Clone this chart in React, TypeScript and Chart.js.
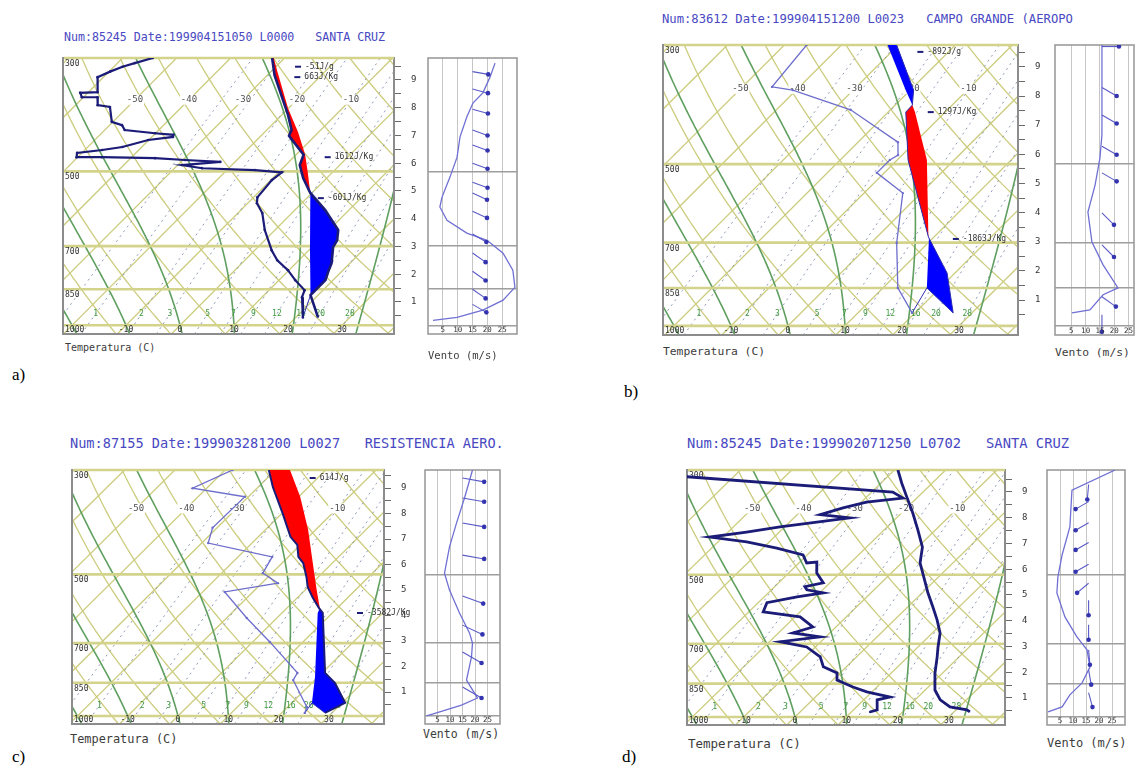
import React, { useEffect, useRef } from 'react';
import { Chart, registerables } from 'chart.js';

Chart.register(...registerables);

// ---------------- diagram constants ----------------
const SKEW = 41;
const P_TOP = 300;
const P_BOT = 1040;

const ISOTHERMS = [-130, -120, -110, -100, -90, -80, -70, -60, -50, -40, -30, -20, -10, 0, 10, 20, 30, 40];
const DRY_ADIABATS_K = [230, 240, 250, 260, 270, 280, 290, 300, 310, 320, 330, 340, 350, 360, 370, 380, 390, 400];
const MOIST_ADIABATS = [-20, -10, 0, 10, 21, 33];
const MIXING_RATIOS = [0.6, 1, 2, 3, 5, 7, 9, 12, 16, 20, 28];
const MIXING_LABELS = ['.6', '1', '2', '3', '5', '7', '9', '12', '16', '20', '28'];
const ISOTHERM_LABELS = [-50, -40, -30, -20, -10];
const PRESSURE_LINES = [500, 700, 850, 1000];
const PRESSURE_LABELS = [300, 500, 700, 850];
const TEMP_TICKS = [-10, 0, 10, 20, 30];
const HEIGHT_TICKS = [0.5, 1, 1.5, 2, 2.5, 3, 3.5, 4, 4.5, 5, 5.5, 6, 6.5, 7, 7.5, 8, 8.5, 9, 9.5];
const WIND_TICKS = [5, 10, 15, 20, 25];
const WIND_LEVELS = [500, 700, 850, 1000];

// ---------------- panel a: Santa Cruz ----------------
const A_ENV_P = [300, 324, 388, 415, 426, 464, 486, 515, 551, 595, 651, 682, 703, 756, 787, 816, 843, 873, 965];
const A_ENV_T = [-32.3, -28.7, -18.8, -15.4, -14.8, -8.6, -7.4, -4.4, -0.3, 5.6, 11.7, 13.4, 13.9, 16.6, 17.6, 18.6, 18.6, 18.6, 24.1];
const A_PARCEL_P = [300, 319, 376, 419, 464, 502, 544, 551, 713, 873, 965];
const A_PARCEL_T = [-32.0, -28.8, -20.1, -13.8, -8.3, -4.6, -0.9, -0.3, 10.2, 18.6, 24.1];
const A_DEW_P = [300, 307, 312, 319, 327, 350, 351, 358, 358, 371, 374, 400, 406, 415, 421, 424, 428, 434, 448, 454, 460, 469, 469, 471, 475, 479, 486, 493, 497, 502, 520, 562, 577, 603, 651, 713, 746, 780, 816, 854, 881, 965];
const A_DEW_T = [-54.4, -56.8, -58.4, -59.8, -61.1, -58.3, -61.4, -60.3, -57.4, -55.9, -53.3, -50.2, -47.7, -46.3, -40.1, -36.4, -36.1, -40.1, -43.6, -46.8, -50.9, -50.2, -45.5, -35.5, -29.6, -22.7, -29.2, -24.9, -14.8, -9.4, -9.8, -9.3, -8.3, -5.5, -1.9, 3.1, 6.0, 9.8, 13.0, 16.6, 17.4, 21.3];
const A_POS_LAYERS = [[300, 551]];
const A_NEG_LAYERS = [[551, 873]];
const A_WIND_P = [307, 327, 351, 367, 391, 428, 469, 513, 562, 587, 623, 660, 682, 723, 780, 843, 893, 934, 965, 978];
const A_WIND_V = [22.6, 20.9, 18.5, 15.2, 13.1, 10.8, 9.8, 7.4, 4.7, 4.0, 6.4, 13.1, 19.9, 25.3, 28.6, 29.3, 25.3, 18.5, 9.8, 1.7];
const A_ARROW_P = [319, 345, 378, 415, 444, 482, 525, 551, 598, 663, 722, 784, 850, 910];
const A_ARROW_DIR = [10, 15, 15, 20, 20, 20, 20, 25, 25, 30, 35, 35, 35, 30];

// ---------------- panel b: Campo Grande ----------------
const B_ENV_P = [300, 364, 388, 400, 491, 683, 797, 946];
const B_ENV_T = [-30.3, -19.4, -17.0, -16.9, -8.1, 9.0, 18.6, 26.7];
const B_PARCEL_P = [300, 364, 388, 400, 491, 683, 850, 946];
const B_PARCEL_T = [-31.9, -20.8, -17.0, -15.3, -4.8, 9.1, 17.7, 26.7];
const B_DEW_P = [300, 359, 364, 396, 455, 481, 491, 519, 566, 701, 850, 946];
const B_DEW_T = [-46.1, -44.8, -40.6, -27.0, -13.0, -10.7, -11.3, -11.3, -3.2, 4.5, 12.6, 19.5];
const B_POS_LAYERS = [[388, 683]];
const B_NEG_LAYERS = [[300, 388], [683, 946]];
const B_WIND_P = [300, 441, 487, 547, 614, 698, 770, 850, 875, 934, 946];
const B_WIND_V = [15.7, 15.7, 15.0, 13.3, 10.8, 12.2, 16.1, 21.3, 16.1, 11.5, 5.2];
const B_ARROW_P = [302, 360, 405, 463, 519, 616, 707, 883, 954];
const B_ARROW_DIR = [0, 30, 30, 30, 30, 45, 45, 35, 90];

// ---------------- panel c: Resistencia ----------------
const C_ENV_P = [300, 326, 370, 416, 433, 459, 473, 507, 532, 559, 589, 604, 810, 851, 938, 985];
const C_ENV_T = [-31.3, -27.1, -20.0, -13.6, -10.6, -8.0, -5.8, -2.3, -0.1, 2.9, 6.3, 8.1, 20.6, 24.6, 30.6, 28.6];
const C_PARCEL_P = [300, 342, 402, 473, 540, 589, 604, 826, 938, 985];
const C_PARCEL_T = [-27.1, -19.7, -11.5, -3.9, 2.3, 6.5, 7.1, 19.4, 24.0, 28.6];
const C_DEW_P = [300, 328, 342, 398, 429, 459, 497, 522, 545, 619, 696, 810, 839, 957, 985];
const C_DEW_T = [-38.5, -42.8, -30.7, -30.9, -28.7, -13.2, -11.8, -6.8, -15.6, -6.0, 3.4, 15.1, 15.7, 23.8, 24.6];
const C_POS_LAYERS = [[300, 591]];
const C_NEG_LAYERS = [[591, 985]];
const C_WIND_P = [300, 344, 389, 437, 497, 540, 604, 666, 700, 749, 839, 916, 948, 985, 1000];
const C_WIND_V = [19.0, 15.8, 12.6, 9.8, 7.8, 9.8, 13.8, 17.8, 19.0, 18.6, 16.6, 21.0, 14.6, 4.6, 0.6];
const C_ARROW_P = [312, 344, 389, 455, 556, 641, 731, 868];
const C_ARROW_DIR = [10, 10, 10, 10, 20, 25, 30, 30];

// ---------------- panel d: Santa Cruz ----------------
const D_ENV_P = [300, 320, 342, 370, 402, 437, 472, 513, 546, 585, 623, 664, 711, 746, 807, 877, 920, 952, 966, 976];
const D_ENV_T = [-29.3, -25.9, -22.2, -17.8, -13.4, -9.1, -6.4, -2.1, 1.1, 4.9, 8.3, 11.5, 13.9, 15.7, 18.5, 21.9, 24.9, 28.2, 32.1, 33.1];
const D_DEW_P = [310, 334, 344, 351, 361, 373, 379, 396, 406, 416, 426, 439, 454, 472, 470, 496, 520, 530, 538, 546, 557, 573, 599, 614, 645, 664, 677, 693, 711, 746, 783, 807, 835, 864, 885, 898, 907, 920, 966, 976];
const D_DEW_T = [-69.1, -25.9, -22.7, -29.0, -32.4, -35.5, -29.1, -40.9, -46.4, -52.6, -44.4, -37.3, -30.8, -28.5, -26.7, -24.5, -21.3, -24.1, -23.1, -19.3, -23.6, -28.3, -27.2, -19.0, -14.5, -17.2, -11.1, -17.9, -11.7, -7.1, -4.5, -0.6, 0.8, 5.3, 9.0, 12.2, 14.5, 12.6, 14.6, 13.6];
const D_WIND_P = [300, 331, 396, 454, 505, 546, 614, 677, 721, 784, 847, 898, 952, 976];
const D_WIND_V = [26.2, 9.6, 8.8, 5.8, 4.2, 3.8, 6.9, 11.5, 15.4, 16.5, 13.5, 8.8, 5.8, 0.4];
const D_ARROW_P = [322, 350, 388, 427, 475, 521, 566, 638, 721, 795, 888];
const D_ARROW_DIR = [95, 150, 150, 150, 150, 140, 90, 90, 85, 80, 75];

// ---------------- layout / style ----------------
const MONO = '"DejaVu Sans Mono", "Liberation Mono", monospace';
const PAD = 2;
const RIGHT_AXIS = 34;

const PANELS: any[] = [
  {
    key: 'a',
    title: 'Num:85245 Date:199904151050 L0000   SANTA CRUZ', titleX: 64, titleY: 38, titleSize: 11.6,
    box: { l: 63, t: 58, r: 394, b: 334 }, xr: [-21.67, 39.63], hr: [-0.153, 9.79],
    wind: { l: 428, r: 517, xr: [0, 30], tailX: 15, len: 16 },
    tempLbl: { x: 65, y: 348, s: 10 }, windLbl: { x: 428, y: 355, s: 10.5 }, letter: { x: 12, y: 375 },
    envP: A_ENV_P, envT: A_ENV_T, env: { c: '#1b1b78', w: 2.6 },
    dewP: A_DEW_P, dewT: A_DEW_T, dew: { c: '#1b1b78', w: 2.2, r: 1.3 },
    parP: A_PARCEL_P, parT: A_PARCEL_T, lcl: 873,
    pos: A_POS_LAYERS, neg: A_NEG_LAYERS,
    windP: A_WIND_P, windV: A_WIND_V, arrowP: A_ARROW_P, arrowDir: A_ARROW_DIR,
    notes: [
      { text: '-51J/g', p: 312, t: -24.6 },
      { text: '663J/Kg', p: 327, t: -22.8 },
      { text: '1612J/Kg', p: 469, t: -2.4 },
      { text: '-601J/Kg', p: 564, t: 3.9 },
    ],
  },
  {
    key: 'b',
    title: 'Num:83612 Date:199904151200 L0023   CAMPO GRANDE (AEROPO', titleX: 662, titleY: 19, titleSize: 12.2,
    box: { l: 663, t: 45, r: 1018, b: 335 }, xr: [-21.93, 40.35], hr: [-0.2, 9.75],
    wind: { l: 1055, r: 1134, xr: [-0.7, 26.9], tailX: 15.7, len: 17 },
    tempLbl: { x: 663, y: 352, s: 11.3 }, windLbl: { x: 1055, y: 353, s: 11.3 }, letter: { x: 624, y: 392 },
    envP: B_ENV_P, envT: B_ENV_T, env: { c: '#2a2ab0', w: 1 },
    dewP: B_DEW_P, dewT: B_DEW_T, dew: { c: '#6d6dcc', w: 1.3, r: 1.2 },
    parP: B_PARCEL_P, parT: B_PARCEL_T, lcl: 850,
    pos: B_POS_LAYERS, neg: B_NEG_LAYERS,
    windP: B_WIND_P, windV: B_WIND_V, arrowP: B_ARROW_P, arrowDir: B_ARROW_DIR,
    notes: [
      { text: '-892J/g', p: 309, t: -23.7 },
      { text: '1297J/Kg', p: 400, t: -11.3 },
      { text: '-1863J/Kg', p: 689, t: 15.4 },
    ],
  },
  {
    key: 'c',
    title: 'Num:87155 Date:199903281200 L0027   RESISTENCIA AERO.', titleX: 70, titleY: 443, titleSize: 13.6,
    box: { l: 72, t: 470, r: 384, b: 724 }, xr: [-21.07, 40.95], hr: [-0.25, 9.71],
    wind: { l: 425, r: 500, xr: [0, 30], tailX: 15, len: 22 },
    tempLbl: { x: 70, y: 739, s: 11.9 }, windLbl: { x: 423, y: 735, s: 11.5 }, letter: { x: 12, y: 757 },
    envP: C_ENV_P, envT: C_ENV_T, env: { c: '#1b1b78', w: 2 },
    dewP: C_DEW_P, dewT: C_DEW_T, dew: { c: '#6d6dcc', w: 1.3, r: 1.2 },
    parP: C_PARCEL_P, parT: C_PARCEL_T, lcl: 938,
    pos: C_POS_LAYERS, neg: C_NEG_LAYERS,
    windP: C_WIND_P, windV: C_WIND_V, arrowP: C_ARROW_P, arrowDir: C_ARROW_DIR,
    notes: [
      { text: '614J/g', p: 312, t: -19.6 },
      { text: '-3582J/Kg', p: 604, t: 16.9 },
    ],
  },
  {
    key: 'd',
    title: 'Num:85245 Date:199902071250 L0702   SANTA CRUZ', titleX: 687, titleY: 443, titleSize: 13.8,
    box: { l: 687, t: 470, r: 1005, b: 725 }, xr: [-21.05, 40.94], hr: [-0.05, 9.85],
    wind: { l: 1047, r: 1125, xr: [0, 30], tailX: 16, len: 15 },
    tempLbl: { x: 688, y: 743, s: 12.5 }, windLbl: { x: 1047, y: 743, s: 12 }, letter: { x: 622, y: 757 },
    envP: D_ENV_P, envT: D_ENV_T, env: { c: '#1b1b78', w: 2.8 },
    dewP: D_DEW_P, dewT: D_DEW_T, dew: { c: '#1b1b78', w: 2.8, r: 1 },
    parP: null, parT: null, lcl: null,
    pos: [], neg: [],
    windP: D_WIND_P, windV: D_WIND_V, arrowP: D_ARROW_P, arrowDir: D_ARROW_DIR,
    notes: [],
  },
];

// ---------------- helpers ----------------
const lnr = (p: number) => Math.log(1000 / p);
const skewX = (t: number, p: number) => t + SKEW * lnr(p);
const toXY = (P: number[], T: number[]) => P.map((p, i) => ({ x: skewX(T[i], p), y: p }));

function interpLog(P: number[], T: number[], p: number) {
  for (let i = 0; i < P.length - 1; i++) {
    if (p >= P[i] && p <= P[i + 1]) {
      const f = Math.log(p / P[i]) / Math.log(P[i + 1] / P[i]);
      return T[i] + f * (T[i + 1] - T[i]);
    }
  }
  return p < P[0] ? T[0] : T[T.length - 1];
}

function layerXY(envP: number[], envT: number[], parP: number[], parT: number[], p1: number, p2: number) {
  const pts: number[][] = [];
  pts.push([p1, interpLog(envP, envT, p1)]);
  envP.forEach((p, i) => { if (p > p1 && p < p2) pts.push([p, envT[i]]); });
  pts.push([p2, interpLog(envP, envT, p2)]);
  pts.push([p2, interpLog(parP, parT, p2)]);
  const back: number[][] = [];
  parP.forEach((p, i) => { if (p > p1 && p < p2) back.push([p, parT[i]]); });
  back.reverse().forEach((q) => pts.push(q));
  pts.push([p1, interpLog(parP, parT, p1)]);
  return pts.map(([p, t]) => ({ x: skewX(t, p), y: p }));
}

function esat(tc: number) { return 6.112 * Math.exp((17.67 * tc) / (tc + 243.5)); }
function dTdp(p: number, tc: number) {
  const T = tc + 273.15;
  const es = esat(tc);
  const rs = (0.622 * es) / (p - es);
  const Rd = 287.04, cp = 1005.7, Lv = 2.501e6;
  return (Rd * T + Lv * rs) / (cp + (Lv * Lv * rs * 0.622) / (Rd * T * T)) / p;
}
function moistCurve(tw: number) {
  const up: number[][] = [];
  let t = tw;
  for (let p = 1000; p >= P_TOP - 5; p -= 5) {
    up.push([p, t]);
    const k1 = dTdp(p, t);
    const k2 = dTdp(p - 2.5, t - 2.5 * k1);
    t -= 5 * k2;
  }
  const down: number[][] = [];
  t = tw;
  for (let p = 1000; p <= P_BOT + 5; p += 5) {
    down.push([p, t]);
    const k1 = dTdp(p, t);
    const k2 = dTdp(p + 2.5, t + 2.5 * k1);
    t += 5 * k2;
  }
  return down.reverse().concat(up.slice(1));
}
const MOIST_CURVES = MOIST_ADIABATS.map(moistCurve);
function mixT(w: number, p: number) {
  const e = (w * p) / (622 + w);
  const l = Math.log(e / 6.112);
  return (243.5 * l) / (17.67 - l);
}

// draws the x-scale's own tick values as labels inside the bottom strip
function drawBottomTicks(chart: any, size: number) {
  const { ctx, chartArea: a, scales } = chart;
  const xs = scales.x;
  ctx.save();
  ctx.font = size + 'px ' + MONO;
  ctx.fillStyle = '#333333';
  ctx.textAlign = 'center';
  ctx.textBaseline = 'middle';
  xs.ticks.forEach((tk: any) => {
    const x = xs.getPixelForValue(tk.value);
    ctx.fillText(String(tk.value), x, a.bottom - 4);
  });
  ctx.restore();
}

const noPad = (s: any) => { s.paddingTop = 0; s.paddingBottom = 0; s.paddingLeft = 0; s.paddingRight = 0; };

// ---------------- skew-T plugin ----------------
function makeSkewPlugin(panel: any) {
  return {
    id: 'skewgrid_' + panel.key,
    beforeDatasetsDraw(chart: any) {
      const { ctx, chartArea: a, scales } = chart;
      const xs = scales.x, ys = scales.y;
      const px = (t: number, p: number) => xs.getPixelForValue(skewX(t, p));
      const py = (p: number) => ys.getPixelForValue(p);
      ctx.save();
      ctx.fillStyle = '#ffffff';
      ctx.fillRect(a.left, a.top, a.width, a.height);
      ctx.beginPath();
      ctx.rect(a.left, a.top, a.width, a.height);
      ctx.clip();
      // isotherms
      ctx.strokeStyle = '#cccc7e';
      ctx.lineWidth = 1.3;
      ISOTHERMS.forEach((t) => {
        ctx.beginPath();
        ctx.moveTo(px(t, P_BOT), py(P_BOT));
        ctx.lineTo(px(t, P_TOP), py(P_TOP));
        ctx.stroke();
      });
      // dry adiabats
      DRY_ADIABATS_K.forEach((th) => {
        ctx.beginPath();
        for (let p = P_BOT; p >= P_TOP; p -= 10) {
          const t = th * Math.pow(p / 1000, 0.2857) - 273.15;
          if (p === P_BOT) ctx.moveTo(px(t, p), py(p));
          else ctx.lineTo(px(t, p), py(p));
        }
        ctx.stroke();
      });
      // mixing ratio lines
      ctx.strokeStyle = '#8e9ab6';
      ctx.lineWidth = 1;
      ctx.setLineDash([2, 4]);
      MIXING_RATIOS.forEach((w) => {
        ctx.beginPath();
        for (let p = P_BOT; p >= P_TOP; p -= 20) {
          const t = mixT(w, p);
          if (p === P_BOT) ctx.moveTo(px(t, p), py(p));
          else ctx.lineTo(px(t, p), py(p));
        }
        ctx.stroke();
      });
      ctx.setLineDash([]);
      // moist adiabats
      ctx.strokeStyle = '#5f9f5f';
      ctx.lineWidth = 1.6;
      MOIST_CURVES.forEach((c) => {
        ctx.beginPath();
        c.forEach(([p, t], i) => {
          if (i === 0) ctx.moveTo(px(t, p), py(p));
          else ctx.lineTo(px(t, p), py(p));
        });
        ctx.stroke();
      });
      // isobars
      ctx.strokeStyle = '#d3d38c';
      ctx.lineWidth = 2.6;
      PRESSURE_LINES.forEach((p) => {
        ctx.beginPath();
        ctx.moveTo(a.left, py(p));
        ctx.lineTo(a.right, py(p));
        ctx.stroke();
      });
      ctx.restore();
      // frame
      ctx.save();
      ctx.strokeStyle = '#8c8c8c';
      ctx.lineWidth = 2;
      ctx.strokeRect(a.left, a.top, a.width, a.height);
      ctx.strokeStyle = '#d3d38c';
      ctx.lineWidth = 2.4;
      ctx.beginPath();
      ctx.moveTo(a.left + 1, a.top);
      ctx.lineTo(a.right, a.top);
      ctx.stroke();
      // isotherm labels
      ctx.font = '9px ' + MONO;
      ctx.textAlign = 'center';
      ctx.textBaseline = 'middle';
      ISOTHERM_LABELS.forEach((t) => {
        const x = px(t, 362), y = py(362);
        if (x < a.left + 8 || x > a.right - 8) return;
        ctx.fillStyle = '#ffffff';
        ctx.fillRect(x - 9, y - 5, 18, 10);
        ctx.fillStyle = '#505050';
        ctx.fillText(String(t), x, y);
      });
      // mixing ratio labels
      ctx.font = '8px ' + MONO;
      ctx.fillStyle = '#3f9a3f';
      MIXING_RATIOS.forEach((w, i) => {
        const x = px(mixT(w, 950), 950);
        if (x < a.left + 4 || x > a.right - 4) return;
        ctx.fillText(MIXING_LABELS[i], x, py(950));
      });
      // pressure labels
      ctx.fillStyle = '#333333';
      ctx.textAlign = 'left';
      PRESSURE_LABELS.forEach((p) => {
        ctx.fillText(String(p), a.left + 2, py(p) + 6);
      });
      ctx.fillText('1000', a.left + 2, a.bottom - 4);
      ctx.restore();
    },
    afterDatasetsDraw(chart: any) {
      const { ctx, scales } = chart;
      const xs = scales.x, ys = scales.y;
      ctx.save();
      ctx.font = '8px ' + MONO;
      ctx.textAlign = 'left';
      ctx.textBaseline = 'middle';
      panel.notes.forEach((n: any) => {
        const x = xs.getPixelForValue(skewX(n.t, n.p));
        const y = ys.getPixelForValue(n.p);
        ctx.strokeStyle = '#1b1b78';
        ctx.lineWidth = 2;
        ctx.beginPath();
        ctx.moveTo(x - 10, y);
        ctx.lineTo(x - 4, y);
        ctx.stroke();
        ctx.fillStyle = '#333333';
        ctx.fillText(n.text, x, y);
      });
      ctx.restore();
      drawBottomTicks(chart, 8);
    },
  };
}

const framePlugin = {
  id: 'windframe',
  beforeDatasetsDraw(chart: any) {
    const { ctx, chartArea: a } = chart;
    ctx.save();
    ctx.strokeStyle = '#9c9c9c';
    ctx.lineWidth = 1.6;
    ctx.strokeRect(a.left, a.top, a.width, a.height);
    ctx.restore();
  },
  afterDatasetsDraw(chart: any) {
    drawBottomTicks(chart, 7.5);
  },
};

// ---------------- components ----------------
function SkewT({ panel }: any) {
  const ref = useRef<HTMLCanvasElement>(null);
  const b = panel.box;
  const W = b.r - b.l + PAD + RIGHT_AXIS;
  const H = b.b - b.t + 2 * PAD;
  useEffect(() => {
    const datasets: any[] = [];
    const line = (data: any, color: string, width: number, order: number, radius = 0) => ({
      data, showLine: true, borderColor: color, borderWidth: width, pointRadius: radius,
      pointBackgroundColor: color, pointBorderWidth: 0, fill: false, tension: 0, order, yAxisID: 'y', xAxisID: 'x',
    });
    datasets.push(line(toXY(panel.envP, panel.envT), panel.env.c, panel.env.w, 1));
    datasets.push(line(toXY(panel.dewP, panel.dewT), panel.dew.c, panel.dew.w, 2, panel.dew.r));
    if (panel.parP) {
      const lowP = panel.parP.filter((p: number) => p >= panel.lcl);
      const lowT = lowP.map((p: number) => interpLog(panel.parP, panel.parT, p));
      datasets.push(line(toXY(lowP, lowT), '#3434b4', 1, 3));
      const sfcP = panel.dewP[panel.dewP.length - 1];
      const sfcTd = panel.dewT[panel.dewT.length - 1];
      datasets.push(line(toXY([sfcP, panel.lcl], [sfcTd, interpLog(panel.parP, panel.parT, panel.lcl)]), '#3434b4', 1, 3));
      panel.pos.forEach((r: number[]) => {
        datasets.push({ ...line(layerXY(panel.envP, panel.envT, panel.parP, panel.parT, r[0], r[1]), '#ff0000', 0, 6), fill: 'shape', backgroundColor: '#ff0000' });
      });
      panel.neg.forEach((r: number[]) => {
        datasets.push({ ...line(layerXY(panel.envP, panel.envT, panel.parP, panel.parT, r[0], r[1]), '#0000ff', 0, 6), fill: 'shape', backgroundColor: '#0000ff' });
      });
    }
    const chart = new Chart(ref.current as HTMLCanvasElement, {
      type: 'scatter',
      data: { datasets },
      plugins: [makeSkewPlugin(panel)],
      options: {
        animation: false,
        responsive: false,
        maintainAspectRatio: false,
        events: [],
        layout: { padding: { left: PAD, top: PAD, right: 0, bottom: PAD }, autoPadding: false },
        plugins: { legend: { display: false }, tooltip: { enabled: false } },
        scales: {
          x: {
            type: 'linear', min: panel.xr[0], max: panel.xr[1], z: 1,
            grid: { display: false, drawTicks: false }, border: { display: false },
            afterBuildTicks: (s: any) => { s.ticks = TEMP_TICKS.map((v) => ({ value: v })); },
            afterFit: (s: any) => { s.height = 0; noPad(s); },
            ticks: { display: false },
          },
          y: { type: 'logarithmic', reverse: true, min: P_TOP, max: P_BOT, display: false },
          yh: {
            type: 'linear', position: 'right', min: panel.hr[0], max: panel.hr[1], z: 1,
            grid: { display: true, drawOnChartArea: false, drawTicks: true, tickLength: 7, color: '#6a6a6a', lineWidth: 1 },
            border: { display: true, color: '#7a7a7a', width: 2 },
            afterBuildTicks: (s: any) => { s.ticks = HEIGHT_TICKS.map((v) => ({ value: v })); },
            afterFit: (s: any) => { s.width = RIGHT_AXIS; noPad(s); },
            ticks: {
              font: { family: MONO, size: 9 }, color: '#333333', padding: 10, autoSkip: false,
              callback: (v: any) => (Number.isInteger(v) && v >= 1 ? String(v) : ''),
            },
          },
        },
      } as any,
    });
    return () => chart.destroy();
  }, []);
  return (
    <canvas ref={ref} width={W} height={H}
      style={{ position: 'absolute', left: b.l - PAD, top: b.t - PAD, width: W, height: H }} />
  );
}

function WindChart({ panel }: any) {
  const ref = useRef<HTMLCanvasElement>(null);
  const b = panel.box;
  const w = panel.wind;
  const W = w.r - w.l + 2 * PAD;
  const H = b.b - b.t + 2 * PAD;
  useEffect(() => {
    const pxPerX = (w.r - w.l) / (w.xr[1] - w.xr[0]);
    const pxPerL = (b.b - b.t) / Math.log(P_BOT / P_TOP);
    const datasets: any[] = [];
    datasets.push({
      data: panel.windP.map((p: number, i: number) => ({ x: panel.windV[i], y: p })),
      showLine: true, borderColor: '#7070d4', borderWidth: 1.3, pointRadius: 0, tension: 0, order: 2,
    });
    panel.arrowP.forEach((p: number, i: number) => {
      const th = (panel.arrowDir[i] * Math.PI) / 180;
      const head = { x: w.tailX + (w.len * Math.cos(th)) / pxPerX, y: p * Math.exp((w.len * Math.sin(th)) / pxPerL) };
      datasets.push({
        data: [{ x: w.tailX, y: p }, head],
        showLine: true, borderColor: '#5a5ac8', borderWidth: 1.1,
        pointRadius: [0, 2.3], pointBackgroundColor: '#3434b0', pointBorderWidth: 0, order: 1,
      });
    });
    const chart = new Chart(ref.current as HTMLCanvasElement, {
      type: 'scatter',
      data: { datasets },
      plugins: [framePlugin],
      options: {
        animation: false,
        responsive: false,
        maintainAspectRatio: false,
        events: [],
        layout: { padding: PAD, autoPadding: false },
        plugins: { legend: { display: false }, tooltip: { enabled: false } },
        scales: {
          x: {
            type: 'linear', min: w.xr[0], max: w.xr[1],
            grid: { display: true, drawTicks: false, color: '#c6c6c6', lineWidth: 1 }, border: { display: false },
            afterBuildTicks: (s: any) => { s.ticks = WIND_TICKS.map((v) => ({ value: v })); },
            afterFit: (s: any) => { s.height = 0; noPad(s); },
            ticks: { display: false },
          },
          y: {
            type: 'logarithmic', reverse: true, min: P_TOP, max: P_BOT,
            grid: { display: true, drawTicks: false, color: '#9e9e9e', lineWidth: 1.5 }, border: { display: false },
            afterBuildTicks: (s: any) => { s.ticks = WIND_LEVELS.map((v) => ({ value: v })); },
            afterFit: (s: any) => { s.width = 0; noPad(s); },
            ticks: { display: false },
          },
        },
      } as any,
    });
    return () => chart.destroy();
  }, []);
  return (
    <canvas ref={ref} width={W} height={H}
      style={{ position: 'absolute', left: w.l - PAD, top: b.t - PAD, width: W, height: H }} />
  );
}

function Label({ x, y, size, color, family, children }: any) {
  return (
    <div style={{
      position: 'absolute', left: x, top: y - size * 0.6, fontSize: size, lineHeight: 1.2 + '',
      fontFamily: family, color, whiteSpace: 'pre',
    }}>{children}</div>
  );
}

function Panel({ panel }: any) {
  return (
    <>
      <Label x={panel.titleX} y={panel.titleY} size={panel.titleSize} color="#4848c2" family={MONO}>{panel.title}</Label>
      <SkewT panel={panel} />
      <WindChart panel={panel} />
      <Label x={panel.tempLbl.x} y={panel.tempLbl.y} size={panel.tempLbl.s} color="#3c3c3c" family={MONO}>Temperatura (C)</Label>
      <Label x={panel.windLbl.x} y={panel.windLbl.y} size={panel.windLbl.s} color="#3c3c3c" family={MONO}>Vento (m/s)</Label>
      <Label x={panel.letter.x} y={panel.letter.y} size={17} color="#000000" family={'"Liberation Serif", "Times New Roman", serif'}>{panel.key + ')'}</Label>
    </>
  );
}

export default function App() {
  return (
    <div style={{ position: 'absolute', left: 0, top: 0, width: 1136, height: 769, background: '#ffffff', overflow: 'hidden' }}>
      {PANELS.map((p) => <Panel key={p.key} panel={p} />)}
    </div>
  );
}
